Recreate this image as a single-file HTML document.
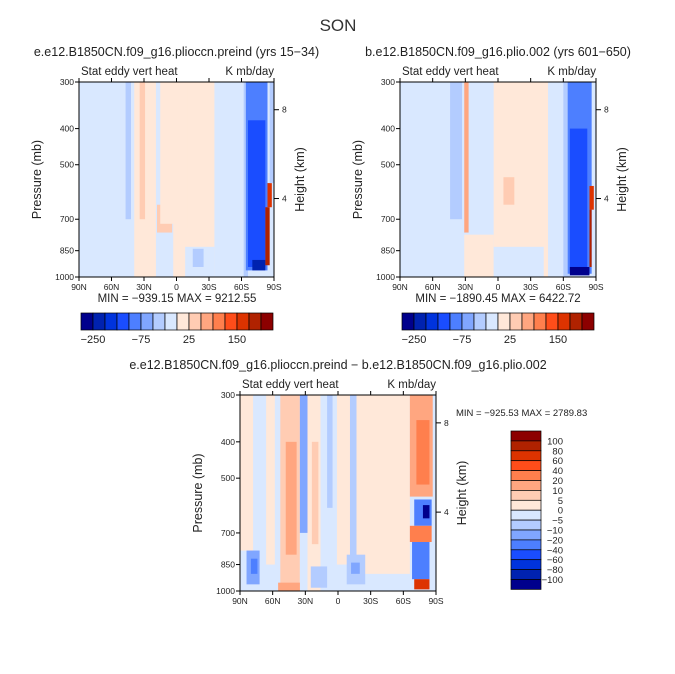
<!DOCTYPE html>
<html><head><meta charset="utf-8"><style>
html,body{margin:0;padding:0;background:#fff;}
svg{display:block;font-family:"Liberation Sans",sans-serif;}
</style></head><body>
<svg id="svg" width="675" height="674" viewBox="0 0 675 674">
<text x="338" y="31" font-size="17" text-anchor="middle" fill="#333">SON</text>
</svg>
<script>
// palette levels (16 bins)
const palette=["#00008C","#0022B0","#0033DD","#1A4DFF","#4D7FFF","#80A6FF","#B3CCFF","#D9E8FF","#FFE8D9","#FFCCB3","#FFA680","#FF7F4D","#FF4D1A","#DD3300","#B02200","#8C0000"];
const topBarLabels=["-250","-75","25","150"];
const topBarLabelBins=[1,5,9,13];
const diffBarLabels=["100","80","60","40","20","10","5","0","-5","-10","-20","-40","-60","-80","-100"];
const pTicks=[300,400,500,700,850,1000];
const latTickLabels=["90N","60N","30N","0","30S","60S","90S"];
const latTicks=[90,60,30,0,-30,-60,-90];
const hTicks=["8","4"];
const hTickP=[356,616];
// field patches: [latFrom, latTo, pTop, pBottom, level]
const field1=[
 [90,-90,300,1000,7],[47,42,300,700,6],[39,19,300,1000,8],[34,29,300,700,9],[18,4,640,760,9],
 [15,-10,300,720,8],[3,-52,300,1000,8],[-10,-52,300,740,8],[-8,-35,830,1000,7],[-15,-25,840,940,6],
 [-35,-55,300,1000,7],[-62,-66,300,1000,6],[-64,-84,300,960,4],[-66,-82,380,940,3],[-70,-82,900,960,1],
 [-84,-88,560,650,13],[-82,-86,650,930,14],[-86,-90,300,560,6]];
const field2=[
 [90,-90,300,1000,7],[44,33,300,700,6],[31,27,300,760,10],[31,4,770,1000,8],[4,-46,300,1000,8],
 [4,-42,830,1000,7],[-5,-15,540,640,9],[-46,-56,300,1000,7],[-60,-66,300,1000,6],
 [-64,-86,300,980,4],[-66,-82,400,960,3],[-66,-84,940,990,0],[-84,-88,570,660,13],[-84,-86,660,940,14]];
const field3=[
 [90,-90,300,1000,7],[90,78,300,780,8],[66,58,300,850,8],[53,35,300,1000,9],[48,38,400,800,10],
 [35,28,300,700,5],[35,28,700,1000,7],[28,16,300,1000,8],[24,18,400,750,9],[16,1,300,1000,7],[10,5,300,600,6],
 [1,-11,300,850,8],[-11,-17,300,820,6],[-17,-66,300,900,8],[-66,-87,300,560,10],
 [-72,-84,350,520,11],[-70,-86,570,670,4],[-78,-84,590,640,0],[-66,-86,670,740,11],[-68,-84,740,930,4],
 [-70,-84,930,990,13],[84,72,780,960,5],[80,74,820,900,4],[-8,-25,800,960,6],[-12,-20,840,900,5],
 [25,10,860,980,6],[55,35,950,1000,10]];
const svg=document.getElementById('svg');
const NS='http://www.w3.org/2000/svg';
function el(tag,attrs,parent){const e=document.createElementNS(NS,tag);for(const k in attrs)e.setAttribute(k,attrs[k]);(parent||svg).appendChild(e);return e;}
function txt(x,y,s,size,anchor,parent,rot){const t=el('text',{x:x,y:y,'font-size':size,'text-anchor':anchor||'start',fill:'#222'},parent);if(rot)t.setAttribute('transform','rotate(-90 '+x+' '+y+')');t.textContent=s;return t;}
function panel(name,x0,y0,w,h,field,title){
 const g=el('g',{});
 
 
 const X=lat=>x0+(90-lat)/180*w;
 const Y=p=>y0+Math.log(p/300)/Math.log(1000/300)*h;
 field.forEach(f=>{
  const r=el('rect',{x:X(f[0]),y:Y(f[2]),width:Math.max(0,X(f[1])-X(f[0])),height:Math.max(0,Y(f[3])-Y(f[2])),fill:palette[f[4]]},g);
  
  
 });
 el('rect',{x:x0,y:y0,width:w,height:h,fill:'none',stroke:'#000','stroke-width':1},g);
 const t=txt(x0+w/2,y0-26,title,12.5,'middle',g);
 
 
 txt(x0+2,y0-7,'Stat eddy vert heat',11.5,'start',g);
 txt(x0+w,y0-7,'K mb/day',11.5,'end',g);
 pTicks.forEach(p=>{el('line',{x1:x0-4,x2:x0,y1:Y(p),y2:Y(p),stroke:'#000'},g);txt(x0-5,Y(p)+3,String(p),8.5,'end',g);});
 latTicks.forEach((l,i)=>{el('line',{x1:X(l),x2:X(l),y1:y0+h,y2:y0+h+4,stroke:'#000'},g);el('line',{x1:X(l),x2:X(l),y1:y0,y2:y0-4,stroke:'#000'},g);txt(X(l),y0+h+13,latTickLabels[i],8.5,'middle',g);});
 hTicks.forEach((s,i)=>{const y=Y(hTickP[i]);el('line',{x1:x0+w,x2:x0+w+5,y1:y,y2:y,stroke:'#000'},g);txt(x0+w+8,y+3,s,8.5,'start',g);});
 const yl=txt(x0-38,y0+h/2,'Pressure (mb)',12.5,'middle',g,true);
 
 
 const hl=txt(x0+w+30,y0+h/2,'Height (km)',12.5,'middle',g,true);
 
 
 return g;
}
function hbar(x0,y0,name){
 const g=el('g',{});
 
 
 palette.forEach((c,i)=>el('rect',{x:x0+i*12,y:y0,width:12,height:17,fill:c,stroke:'#000','stroke-width':0.7},g));
 topBarLabels.forEach((s,i)=>txt(x0+topBarLabelBins[i]*12,y0+30,s.replace('-','\u2212'),11,'middle',g));
}
panel('panel-preind',79,82,195,195,field1,'e.e12.B1850CN.f09_g16.plioccn.preind (yrs 15\u221234)');
txt(177,302,'MIN = \u2212939.15   MAX = 9212.55',11.5,'middle');
hbar(81,313,'colorbar-preind');
panel('panel-plio',400,82,196,195,field2,'b.e12.B1850CN.f09_g16.plio.002 (yrs 601\u2212650)');
txt(498,302,'MIN = \u22121890.45   MAX = 6422.72',11.5,'middle');
hbar(402,313,'colorbar-plio');
panel('panel-difference',240,395,196,196,field3,'e.e12.B1850CN.f09_g16.plioccn.preind \u2212 b.e12.B1850CN.f09_g16.plio.002');
txt(456,416,'MIN = \u2212925.53   MAX = 2789.83',9.5,'start');
const vb=el('g',{});


palette.slice().reverse().forEach((c,i)=>el('rect',{x:511,y:431+i*9.9,width:30,height:9.9,fill:c,stroke:'#000','stroke-width':0.7},vb));
diffBarLabels.forEach((s,i)=>txt(563,431+(i+1)*9.9+3.5,s.replace('-','\u2212'),9.5,'end',vb));
</script>
</body></html>
